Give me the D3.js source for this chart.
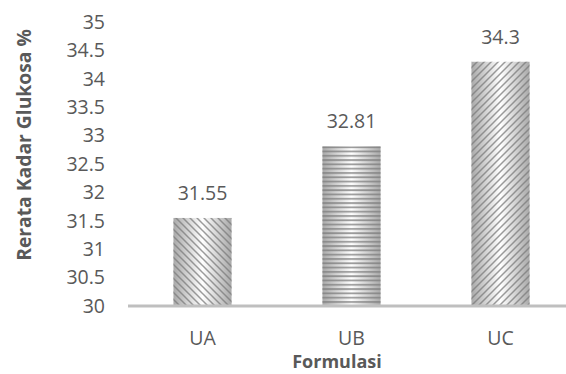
<!DOCTYPE html>
<html>
<head>
<meta charset="utf-8">
<script src="https://cdn.jsdelivr.net/npm/d3@7"></script>
<style>
  html, body { margin: 0; padding: 0; background: #fff; }
  svg { display: block; font-family: "Open Sans", sans-serif; }
</style>
</head>
<body>
<svg id="chart" width="566" height="374"></svg>
<script>
// Mean glucose content per formulation
const categories = ["UA", "UB", "UC"];
const values = [31.55, 32.81, 34.3];
const yTicks = [30, 30.5, 31, 31.5, 32, 32.5, 33, 33.5, 34, 34.5, 35];
const patterns = ["diagDown", "horiz", "diagUp"];

const svg = d3.select("#chart");
const textColor = "#595959";

const x = d3.scaleBand().domain(categories).range([128, 575]).paddingInner(0.61).paddingOuter(0.305);
const y = d3.scaleLinear().domain([30, 35]).range([306, 22]);

const defs = svg.append("defs");
const grad = defs.append("linearGradient").attr("id", "shade")
  .attr("x1", "0%").attr("x2", "100%").attr("y1", "0%").attr("y2", "0%");
grad.append("stop").attr("offset", "0%").attr("stop-color", "#a9a9a9");
grad.append("stop").attr("offset", "50%").attr("stop-color", "#ffffff");
grad.append("stop").attr("offset", "100%").attr("stop-color", "#a9a9a9");

// hatch tiles drawn as explicit paths so the slant direction is unambiguous
function hatch(id, s, pathD, w) {
  const p = defs.append("pattern").attr("id", id)
    .attr("patternUnits", "userSpaceOnUse")
    .attr("width", s).attr("height", s);
  p.append("path").attr("d", pathD)
    .attr("stroke", "#7a7a7a").attr("stroke-opacity", 0.75)
    .attr("stroke-width", w).attr("fill", "none");
}
const s = 7;
// "\" slant: top-left to bottom-right
hatch("diagDown", s, `M${-s / 2},${s / 2} L${s / 2},${s * 1.5} M0,0 L${s},${s} M${s / 2},${-s / 2} L${s * 1.5},${s / 2}`, 1.5);
// "/" slant: bottom-left to top-right
hatch("diagUp", s, `M${-s / 2},${s / 2} L${s / 2},${-s / 2} M0,${s} L${s},0 M${s / 2},${s * 1.5} L${s * 1.5},${s / 2}`, 1.5);
hatch("horiz", 4.3, "M0,1 L4.3,1", 1.8);

// y tick labels
svg.append("g").selectAll("text").data(yTicks).join("text")
  .attr("x", 105).attr("y", d => y(d)).attr("dy", "0.35em")
  .attr("text-anchor", "end").attr("fill", textColor)
  .style("font-size", "19.5px").text(d => d);

// bars
const bars = svg.append("g").selectAll("g").data(categories).join("g");
bars.append("rect")
  .attr("x", d => x(d)).attr("width", x.bandwidth())
  .attr("y", (d, i) => y(values[i])).attr("height", (d, i) => y(30) - y(values[i]))
  .attr("fill", "url(#shade)");
bars.append("rect")
  .attr("x", d => x(d)).attr("width", x.bandwidth())
  .attr("y", (d, i) => y(values[i])).attr("height", (d, i) => y(30) - y(values[i]))
  .attr("fill", (d, i) => `url(#${patterns[i]})`);

// value labels
svg.append("g").selectAll("text").data(categories).join("text")
  .attr("x", d => x(d) + x.bandwidth() / 2)
  .attr("y", (d, i) => y(values[i]) - 25).attr("dy", "0.35em")
  .attr("text-anchor", "middle").attr("fill", textColor)
  .style("font-size", "19.5px").text((d, i) => values[i]);

// baseline axis
svg.append("line").attr("x1", 128).attr("x2", 566).attr("y1", y(30)).attr("y2", y(30))
  .attr("stroke", "#bfbfbf").attr("stroke-width", 3);

// category labels
svg.append("g").selectAll("text").data(categories).join("text")
  .attr("x", d => x(d) + x.bandwidth() / 2).attr("y", 338).attr("dy", "0.35em")
  .attr("text-anchor", "middle").attr("fill", textColor)
  .style("font-size", "19.5px").text(d => d);

// axis titles
svg.append("text").attr("x", 337).attr("y", 368)
  .attr("text-anchor", "middle").attr("fill", textColor)
  .style("font-size", "18px").style("font-weight", "bold").text("Formulasi");
svg.append("text").attr("transform", "translate(24,145) rotate(-90)").attr("dy", "0.35em")
  .attr("text-anchor", "middle").attr("fill", textColor)
  .style("font-size", "19.3px").style("font-weight", "bold").text("Rerata Kadar Glukosa %");
</script>
</body>
</html>
